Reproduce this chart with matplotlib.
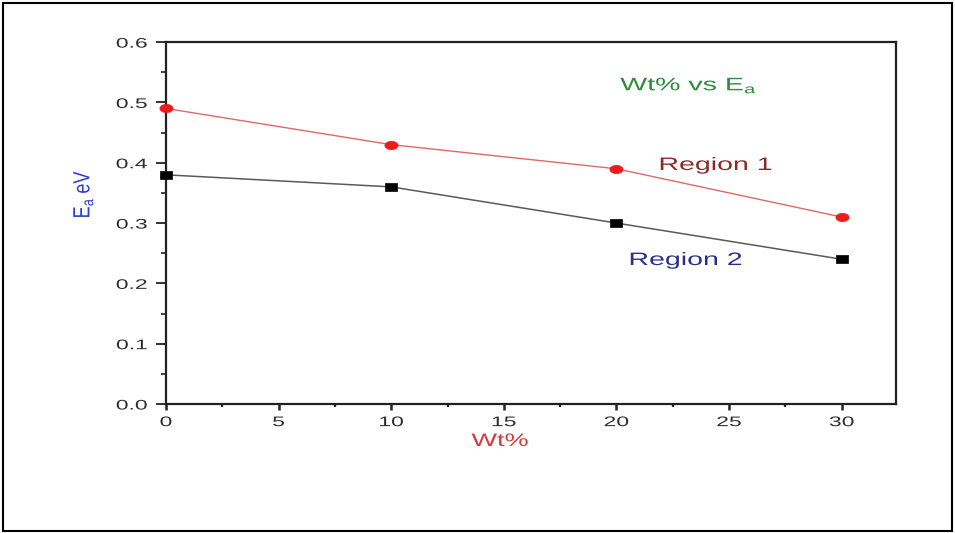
import matplotlib
matplotlib.use("Agg")
import numpy as np
import matplotlib.pyplot as plt
from matplotlib.patches import Rectangle
from matplotlib.path import Path
from matplotlib.patheffects import AbstractPathEffect
from matplotlib.transforms import Affine2D
from matplotlib.ticker import MultipleLocator, FormatStrFormatter

plt.rcParams['font.family'] = ['Liberation Sans', 'DejaVu Sans']

wt = [0, 10, 20, 30]
region1 = [0.49, 0.43, 0.39, 0.31]
region2 = [0.38, 0.36, 0.30, 0.24]


# the source picture is stretched sideways, so widen glyphs to match
class Wide(AbstractPathEffect):
    def __init__(self, sx=1.6, anchor="center", sy=1.0):
        super().__init__()
        self.sx = sx
        self.sy = sy
        self.anchor = anchor

    def draw_path(self, renderer, gc, tpath, affine, rgbFace=None):
        ext = tpath.get_extents()
        cx = {"left": ext.x0, "center": (ext.x0 + ext.x1) / 2, "right": ext.x1}[self.anchor]
        pre = Affine2D().translate(-cx, 0).scale(self.sx, self.sy).translate(cx, 0)
        renderer.draw_path(gc, tpath, pre + affine, rgbFace)


circ = Path.unit_circle()
ellipse = circ.transformed(Affine2D().scale(1.6, 1))
rect = Path(np.array([[-1.57, -1], [1.57, -1], [1.57, 1], [-1.57, 1], [-1.57, -1]]),
            [Path.MOVETO, Path.LINETO, Path.LINETO, Path.LINETO, Path.CLOSEPOLY])

fig = plt.figure(figsize=(9.55, 5.33), dpi=100)
ax = fig.add_axes([0.1738, 0.242, 0.7642, 0.679])

ax.plot(wt, region1, color="#e06868", lw=1.0, marker=ellipse, ms=9.5,
        mfc="#ec1c1c", mec="#ec1c1c", mew=0.5, clip_on=False, zorder=3)
ax.plot(wt, region2, color="#5a5a5a", lw=1.1, marker=rect, ms=8,
        mfc="black", mec="black", mew=0.5, clip_on=False, zorder=3)

ax.set_xlim(0, 32.4)
ax.set_ylim(0, 0.6)
ax.xaxis.set_major_locator(MultipleLocator(5))
ax.xaxis.set_minor_locator(MultipleLocator(2.5))
ax.yaxis.set_major_locator(MultipleLocator(0.1))
ax.yaxis.set_minor_locator(MultipleLocator(0.05))
ax.yaxis.set_major_formatter(FormatStrFormatter("%.1f"))
ax.tick_params(which="both", direction="out", colors="#222222",
               labelsize=10, labelcolor="#2e2e2e")
ax.tick_params(axis="y", which="major", length=7.5, width=1.3, pad=6)
ax.tick_params(axis="y", which="minor", length=3.5, width=1.2)
ax.tick_params(axis="x", which="major", length=4, width=1.8, pad=4)
ax.tick_params(axis="x", which="minor", length=2.5, width=1.6)
for s in ax.spines.values():
    s.set_linewidth(1.6)
    s.set_color("#222222")

ax.set_xlabel("Wt%", color="#d9383a", fontsize=13,
              path_effects=[Wide(1.5, "center")])
ax.xaxis.set_label_coords(0.4575, -0.08)
ax.set_ylabel(r"E$_\mathregular{a}$ eV", color="#2b3fd6", fontsize=13,
              path_effects=[Wide(1.0, "center", sy=1.3)])
ax.yaxis.set_label_coords(-0.098, 0.58)

ax.text(20.17, 0.520, r"Wt% vs E$_\mathregular{a}$", color="#2e8b3a", fontsize=13,
        ha="left", va="baseline", path_effects=[Wide(1.58, "left")])
ax.text(21.9, 0.388, "Region 1", color="#8b2a2a", fontsize=13,
        ha="left", va="baseline", path_effects=[Wide(1.58, "left")])
ax.text(20.57, 0.2304, "Region 2", color="#2a2f8f", fontsize=13,
        ha="left", va="baseline", path_effects=[Wide(1.58, "left")])

fig.patches.append(Rectangle((0.003, 0.004), 0.994, 0.99, transform=fig.transFigure,
                             fill=False, ec="black", lw=1.5))

fig.canvas.draw()
for lbl in ax.get_xticklabels():
    lbl.set_path_effects([Wide(1.65, "center")])
for lbl in ax.get_yticklabels():
    lbl.set_path_effects([Wide(1.65, "right")])

fig.savefig("out.png", dpi=100)
